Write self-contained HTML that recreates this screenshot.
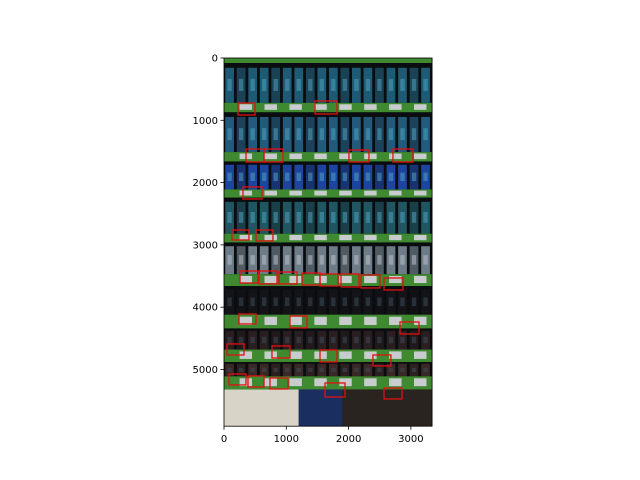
<!DOCTYPE html>
<html><head><meta charset="utf-8"><style>
body{margin:0;background:#fff;}
#wrap{position:relative;width:640px;height:480px;overflow:hidden;font-family:"DejaVu Sans","Liberation Sans",sans-serif;}
</style></head><body>
<div id="wrap">
<svg id="chart" width="640" height="480" xmlns="http://www.w3.org/2000/svg">
  <g id="img"></g>
  <g id="boxes"></g>
  <g id="axes"></g>
</svg>
</div>
<script>
const imgW = 3340, imgH = 5910;
const xTicks = [0, 1000, 2000, 3000];
const yTicks = [0, 1000, 2000, 3000, 4000, 5000];
// shelf bands [y0, y1] in image units
const shelfY0 = [0, 720, 1510, 2110, 2820, 3470, 4120, 4680, 5110];
const shelfY1 = [80, 870, 1660, 2240, 2960, 3660, 4340, 4880, 5320];
// product row colours between shelves
const rowColors = ["#1f5a74", "#235a7c", "#1d45a0", "#205662", "#6e7c88", "#141418", "#2a1e20", "#3a2826"];
// detection boxes (image units)
const boxX0 = [225,1461, 353,642,2006,2712, 305, 128,514, 257,562,883,1252,1541,1878,2199,2568, 241,1059,2825, 48,770,1541,2391, 80,385,738,1621,2568];
const boxY0 = [722,690, 1461,1461,1477,1461, 2070, 2761,2761, 3419,3419,3435,3451,3467,3467,3483,3531, 4109,4141,4237, 4590,4622,4687,4767, 5072,5104,5136,5216,5297];
const boxX1 = [498,1814, 642,947,2327,3033, 610, 401,786, 546,851,1172,1541,1830,2167,2504,2873, 514,1332,3130, 321,1059,1814,2680, 353,642,1027,1942,2857];
const boxY1 = [915,899, 1669,1669,1669,1669, 2263, 2921,2937, 3611,3627,3627,3643,3659,3675,3691,3723, 4269,4333,4430, 4767,4815,4879,4943, 5248,5280,5313,5441,5473];

const L = 224, T = 58, S = 0.0623;
const sx = v => L + v * S, sy = v => T + v * S;
const NS = "http://www.w3.org/2000/svg";
function mk(tag, attrs, parent){const e=document.createElementNS(NS,tag);for(const k in attrs)e.setAttribute(k,attrs[k]);parent.appendChild(e);return e;}

const img = document.getElementById('img');
const bg = mk('rect',{x:sx(0),y:sy(0),width:imgW*S,height:imgH*S,fill:'#0a0d10'},img);


// products
for(let r=0;r<rowColors.length;r++){
  const top = shelfY1[r], bot = shelfY0[r+1];
  for(let i=0;i<18;i++){
    const bx = 20 + i*185;
    const b = mk('rect',{x:sx(bx),y:sy(top+(bot-top)*0.12),width:140*S,height:(bot-top)*0.88*S,fill:rowColors[r],opacity:(i%3==1)?0.7:1},img);
    
    
    mk('rect',{x:sx(bx+35),y:sy(top+(bot-top)*0.4),width:70*S,height:(bot-top)*0.3*S,fill:(r==4?'#b8c0c8':(r>=5?'#3a4a58':'#4fa0bc')),opacity:0.55},img);
  }
}
// bottom section
const bt = shelfY1[8];
mk('rect',{x:sx(0),y:sy(bt),width:1200*S,height:(imgH-bt)*S,fill:'#d8d4c8'},img);
mk('rect',{x:sx(1200),y:sy(bt),width:700*S,height:(imgH-bt)*S,fill:'#1a2f60'},img);
mk('rect',{x:sx(1900),y:sy(bt),width:(imgW-1900)*S,height:(imgH-bt)*S,fill:'#2a2420'},img);
// shelves
for(let i=0;i<shelfY0.length;i++){
  const s = mk('rect',{x:sx(0),y:sy(shelfY0[i]),width:imgW*S,height:(shelfY1[i]-shelfY0[i])*S,fill:'#3f8a30'},img);
  
  
  if(i>0){
    for(let j=0;j<8;j++){
      mk('rect',{x:sx(250+j*400),y:sy(shelfY0[i]+(shelfY1[i]-shelfY0[i])*0.15),width:200*S,height:(shelfY1[i]-shelfY0[i])*0.6*S,fill:'#c8ccce'},img);
    }
  }
}
// boxes
const boxes = document.getElementById('boxes');
for(let i=0;i<boxX0.length;i++){
  const r = mk('rect',{x:sx(boxX0[i]),y:sy(boxY0[i]),width:(boxX1[i]-boxX0[i])*S,height:(boxY1[i]-boxY0[i])*S,fill:'none',stroke:'#e01010','stroke-width':1.3},boxes);
  
  
}
// axes
const ax = document.getElementById('axes');
const fr = mk('rect',{x:sx(0),y:sy(0),width:imgW*S,height:imgH*S,fill:'none',stroke:'#000','stroke-width':0.8},ax);


const yb = sy(imgH);
xTicks.forEach(v=>{
  mk('line',{x1:sx(v),x2:sx(v),y1:yb,y2:yb+3.5,stroke:'#000','stroke-width':0.8},ax);
  const t = mk('text',{x:sx(v),y:yb+16,'font-size':10,'text-anchor':'middle',fill:'#000'},ax);
  t.textContent = v;
  
  
});
yTicks.forEach(v=>{
  mk('line',{x1:L-3.5,x2:L,y1:sy(v),y2:sy(v),stroke:'#000','stroke-width':0.8},ax);
  const t = mk('text',{x:L-6,y:sy(v)+3.5,'font-size':10,'text-anchor':'end',fill:'#000'},ax);
  t.textContent = v;
  
  
});
</script>
</body></html>
